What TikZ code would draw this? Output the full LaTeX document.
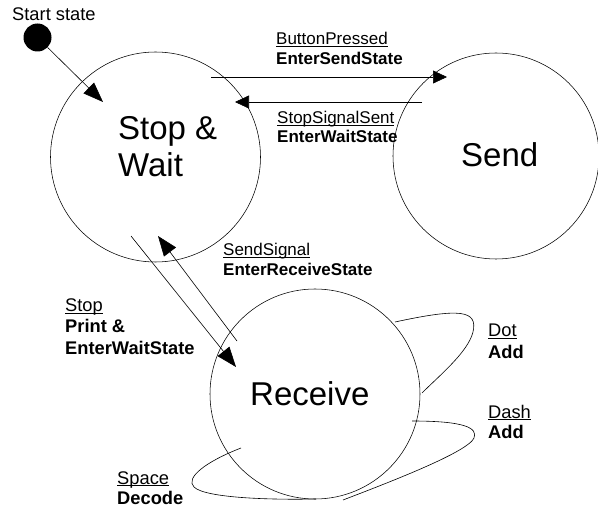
\documentclass[tikz,border=0pt]{standalone}
\usepackage{fontspec}
\setmainfont{Liberation Sans}
\usetikzlibrary{arrows.meta}

% underlined event name (underline sits just below the baseline)
\newcommand\evname[1]{\underline{\smash{#1}}}

\begin{document}
\begin{tikzpicture}[x=1pt,y=-1pt,
  statecircle/.style={draw,circle,line width=0.55pt,inner sep=0pt,minimum size=210pt},
  statename/.style={anchor=base west,inner sep=0pt,font=\fontsize{33}{38}\selectfont},
  lbl/.style={anchor=base west,inner sep=0pt,font=\fontsize{17}{20}\selectfont},
  act/.style={lbl,font=\fontsize{17}{20}\selectfont\bfseries},
  lblL/.style={anchor=base west,inner sep=0pt,font=\fontsize{18.3}{21}\selectfont},
  actL/.style={lblL,font=\fontsize{18.3}{21}\selectfont\bfseries},
  trans/.style={line width=0.6pt,-{Triangle[length=20pt,width=15pt]}},
  transh/.style={line width=0.6pt,-{Triangle[length=14pt,width=13pt]}},
  loopline/.style={line width=0.6pt}]

\useasboundingbox (0,0) rectangle (598,508);

% initial pseudo-state
\node[fill=black,circle,inner sep=0pt,minimum size=28pt] (start) at (37.5,37.5) {};
\node[lblL] (startlbl) at (12,20.5) {Start state};

% states
\node[statecircle] (wait) at (155.5,157) {};
\node[statecircle,minimum size=206pt] (send) at (496,156) {};
\node[statecircle] (recv) at (315,394) {};

\node[statename] (waitA) at (118,140) {Stop \&};
\node[statename] (waitB) at (118,177) {Wait};
\node[statename] (sendtxt) at (461,167) {Send};
\node[statename] (recvtxt) at (250,405) {Receive};

% arrow end points
\coordinate (a1) at (103,102);
\coordinate (bp1) at (211,77);
\coordinate (bp2) at (447,77);
\coordinate (ss1) at (422,102);
\coordinate (ss2) at (235,102);
\coordinate (sg1) at (237,341);
\coordinate (sg2) at (158,236);
\coordinate (st1) at (131,236);
\coordinate (st2) at (236,367);

% transitions
\draw[trans] (start) -- (a1);
\draw[transh] (bp1) -- (bp2);
\draw[transh] (ss1) -- (ss2);
\draw[trans] (sg1) -- (sg2);
\draw[trans] (st1) -- (st2);

% self transitions of Receive
\coordinate (dot1) at (395,322);
\coordinate (dot2) at (422,393);
\draw[loopline] (dot1) .. controls (460,308) and (478,310) .. (473,332)
                 .. controls (468,352) and (440,375) .. (dot2);
\coordinate (dash1) at (412,421);
\coordinate (dash2) at (343,500);
\draw[loopline] (dash1) .. controls (465,421) and (478,428) .. (474,438)
                 .. controls (468,452) and (390,482) .. (dash2);
\coordinate (sp1) at (241,448);
\coordinate (sp2) at (316,499);
\draw[loopline] (sp1) .. controls (205,462) and (185,478) .. (194,487)
                 .. controls (205,498) and (270,500) .. (sp2);

% transition labels
\node[lbl] (l1a) at (276,45) {\evname{ButtonPressed}};
\node[act] (l1b) at (276,65) {EnterSendState};
\node[lbl] (l2a) at (277,124) {\evname{StopSignalSent}};
\node[act] (l2b) at (277,143) {EnterWaitState};
\node[lbl] (l3a) at (223,256) {\evname{SendSignal}};
\node[act] (l3b) at (223,276) {EnterReceiveState};
\node[lblL] (l4a) at (65,312) {\evname{Stop}};
\node[actL] (l4b) at (65,333) {Print \&};
\node[actL] (l4c) at (65,354) {EnterWaitState};
\node[lblL] (l5a) at (488,337) {\evname{Dot}};
\node[actL] (l5b) at (488,358) {Add};
\node[lblL] (l6a) at (488,418) {\evname{Dash}};
\node[actL] (l6b) at (488,438) {Add};
\node[lblL] (l7a) at (117,484) {\evname{Space}};
\node[actL] (l7b) at (117,504) {Decode};

\end{tikzpicture}
\end{document}
